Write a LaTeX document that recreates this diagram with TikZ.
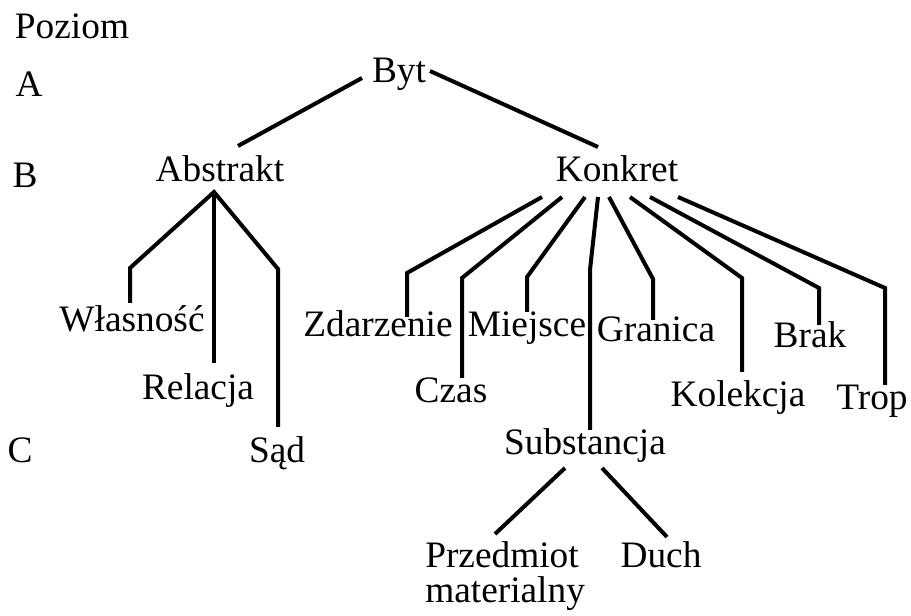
\documentclass[tikz,border=0pt]{standalone}
\usepackage{fontspec}
\setmainfont{Liberation Serif}
\begin{document}
\begin{tikzpicture}[x=0.75pt,y=-0.75pt,
  lbl/.style={anchor=base,inner sep=0pt,font=\fontsize{28}{32}\selectfont},
  conn/.style={line width=3pt}]
\useasboundingbox (0,0) rectangle (911,616);
% level labels
\node[lbl] (poziom) at (72,39) {Poziom};
\node[lbl] (la) at (29,97) {A};
\node[lbl] (lb) at (25,188) {B};
\node[lbl] (lc) at (20,463) {C};
% tree nodes
\node[lbl] (byt) at (399,83) {Byt};
\node[lbl] (abstrakt) at (220,182) {Abstrakt};
\node[lbl] (konkret) at (617,182) {Konkret};
\node[lbl] (wlasnosc) at (132,332) {Własność};
\node[lbl] (relacja) at (198,400) {Relacja};
\node[lbl] (sad) at (277,463) {Sąd};
\node[lbl] (zdarzenie) at (378,337) {Zdarzenie};
\node[lbl] (czas) at (451,403) {Czas};
\node[lbl] (miejsce) at (527,337) {Miejsce};
\node[lbl] (granica) at (656,342) {Granica};
\node[lbl] (brak) at (810,348) {Brak};
\node[lbl] (kolekcja) at (738,407) {Kolekcja};
\node[lbl] (trop) at (872,410) {Trop};
\node[lbl] (substancja) at (585,455) {Substancja};
\node[lbl,anchor=base west] (przedmiot) at (425,567) {Przedmiot};
\node[lbl,anchor=base west] (materialny) at (425,603) {materialny};
\node[lbl] (duch) at (661,567) {Duch};
% connector points
\coordinate (bytL) at (362,78);
\coordinate (bytR) at (430,71);
\coordinate (abT) at (238,146);
\coordinate (koT) at (598,147);
\coordinate (abB) at (214,192);
\coordinate (wlB) at (130,268); \coordinate (wlE) at (130,303);
\coordinate (reE) at (214,363);
\coordinate (saB) at (278,269); \coordinate (saE) at (278,427);
\coordinate (k1) at (542,197); \coordinate (zdB) at (407,273); \coordinate (zdE) at (407,317);
\coordinate (k2) at (562,197); \coordinate (czB) at (462,278); \coordinate (czE) at (462,378);
\coordinate (k3) at (585,197); \coordinate (miB) at (527,277); \coordinate (miE) at (527,312);
\coordinate (k4) at (598,197); \coordinate (suB) at (590,270); \coordinate (suE) at (590,430);
\coordinate (k5) at (609,197); \coordinate (grB) at (653,279); \coordinate (grE) at (653,320);
\coordinate (k6) at (630,197); \coordinate (koB) at (742,278); \coordinate (koE) at (742,372);
\coordinate (k7) at (650,197); \coordinate (brB) at (819,288); \coordinate (brE) at (819,325);
\coordinate (k8) at (678,197); \coordinate (trB) at (885,288); \coordinate (trE) at (885,385);
\coordinate (s1) at (565,468); \coordinate (prE) at (495,534);
\coordinate (s2) at (602,468); \coordinate (duE) at (667,537);
% connectors
\draw[conn] (bytL) -- (abT);
\draw[conn] (bytR) -- (koT);
\draw[conn] (wlE) -- (wlB) -- (abB) -- (saB) -- (saE);
\draw[conn] (abB) -- (reE);
\draw[conn] (zdE) -- (zdB) -- (k1);
\draw[conn] (czE) -- (czB) -- (k2);
\draw[conn] (miE) -- (miB) -- (k3);
\draw[conn] (suE) -- (suB) -- (k4);
\draw[conn] (grE) -- (grB) -- (k5);
\draw[conn] (koE) -- (koB) -- (k6);
\draw[conn] (brE) -- (brB) -- (k7);
\draw[conn] (trE) -- (trB) -- (k8);
\draw[conn] (s1) -- (prE);
\draw[conn] (s2) -- (duE);
\end{tikzpicture}
\end{document}
